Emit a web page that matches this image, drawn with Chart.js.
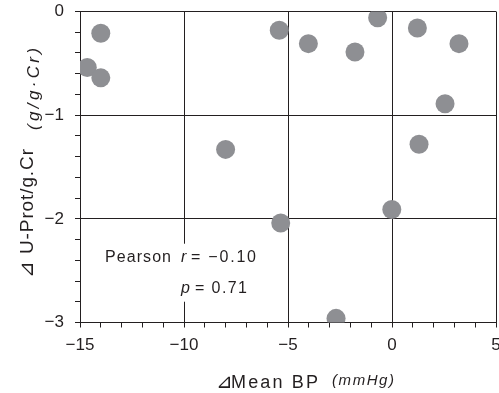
<!DOCTYPE html>
<html>
<head>
<meta charset="utf-8">
<script src="https://cdn.jsdelivr.net/npm/chart.js@4.4.1/dist/chart.umd.min.js"></script>
<style>
  html, body { margin: 0; padding: 0; background: #fff; }
  #wrap { width: 499px; height: 393px; position: relative; }
</style>
</head>
<body>
<div id="wrap"><canvas id="c" width="499" height="393"></canvas></div>
<script>
// ─── DATA ─────────────────────────────────────────────────────────────────────
const deltaMeanBP = [-14.0, -14.65, -14.0, -8.0, -5.42, -4.02, -0.69, -1.78, 1.22, 3.22, 2.55, 1.30, -5.35, -0.01, -2.69];
const deltaUProt  = [-0.21, -0.54, -0.64, -1.33, -0.18, -0.31, -0.06, -0.39, -0.16, -0.31, -0.89, -1.28, -2.04, -1.91, -2.96];
const xTicks = [-15, -10, -5, 0, 5];
const yTicks = [0, -1, -2, -3];

const INK = '#231f20';
const DOT = '#8e8f93';
const FONT = '"Liberation Sans", Arial, Helvetica, sans-serif';
// plot box inside the 499x393 canvas
const AREA = { left: 80, top: 11.5, right: 496, bottom: 322.5 };

const fmt = v => (v < 0 ? '\u2212' + Math.abs(v) : String(v));

// draw a string stretched (by letter spacing) to a given span
function spanText(ctx, text, x, y, font, span) {
  ctx.font = font;
  ctx.letterSpacing = '0px';
  const w = ctx.measureText(text).width;
  const gap = text.length > 1 ? (span - w) / (text.length - 1) : 0;
  ctx.letterSpacing = gap.toFixed(2) + 'px';
  ctx.fillText(text, x, y);
  ctx.letterSpacing = '0px';
  return span;
}

// ─── PIN THE PLOT AREA ────────────────────────────────────────────────────────
const fixedArea = {
  id: 'fixedArea',
  afterLayout(chart) {
    const ca = chart.chartArea;
    Object.assign(ca, AREA, { width: AREA.right - AREA.left, height: AREA.bottom - AREA.top });
    const xs = chart.scales.x, ys = chart.scales.y;
    Object.assign(xs, { left: AREA.left, right: AREA.right, top: AREA.bottom, bottom: chart.height,
      width: AREA.right - AREA.left, height: chart.height - AREA.bottom });
    Object.assign(ys, { left: 0, right: AREA.left, top: AREA.top, bottom: AREA.bottom,
      width: AREA.left, height: AREA.bottom - AREA.top });
    xs.configure();
    ys.configure();
  }
};

// ─── TITLES / ANNOTATION PLUGIN ───────────────────────────────────────────────
const decorations = {
  id: 'decorations',
  afterDraw(chart) {
    const ctx = chart.ctx;
    const xs = chart.scales.x, ys = chart.scales.y;
    ctx.save();

    // white box behind the stats text (breaks the grid line)
    ctx.fillStyle = '#fff';
    ctx.fillRect(xs.getPixelForValue(-10) - 6, ys.getPixelForValue(-2.24), 90, 58);

    ctx.fillStyle = INK;
    ctx.textBaseline = 'alphabetic';
    ctx.textAlign = 'left';
    spanText(ctx, 'Pearson', 105, 262, '16px ' + FONT, 66);
    spanText(ctx, 'r', 181, 262, 'italic 16px ' + FONT, 5);
    spanText(ctx, '= \u22120.10', 191, 262, '16px ' + FONT, 65);
    spanText(ctx, 'p', 181, 293, 'italic 16px ' + FONT, 9);
    spanText(ctx, '= 0.71', 195, 293, '16px ' + FONT, 52);

    // x title: triangle a bit larger than the words
    spanText(ctx, '\u22BF', 216, 388, '20px ' + FONT, 13);
    spanText(ctx, 'Mean BP', 231, 388, '18px ' + FONT, 87);
    spanText(ctx, '(mmHg)', 332, 385, 'italic 15px ' + FONT, 62);

    // y title
    ctx.translate(33, 278);
    ctx.rotate(-Math.PI / 2);
    spanText(ctx, '\u22BF', 0, 0, '20px ' + FONT, 13);
    spanText(ctx, 'U-Prot/g.Cr', 24, 0, '19px ' + FONT, 105);
    spanText(ctx, '(g/g\u00B7Cr)', 148, 6, 'italic 17px ' + FONT, 82);
    ctx.restore();
  }
};

// ─── CHART ────────────────────────────────────────────────────────────────────
new Chart(document.getElementById('c').getContext('2d'), {
  type: 'scatter',
  data: {
    datasets: [{
      data: deltaMeanBP.map((x, i) => ({ x, y: deltaUProt[i] })),
      backgroundColor: DOT,
      borderWidth: 0,
      pointRadius: 9.5,
      pointHoverRadius: 9.5
    }]
  },
  options: {
    responsive: false,
    animation: false,
    plugins: { legend: { display: false }, tooltip: { enabled: false } },
    scales: {
      x: {
        type: 'linear',
        min: xTicks[0], max: xTicks[xTicks.length - 1],
        ticks: {
          stepSize: 1, autoSkip: false, maxRotation: 0,
          color: INK, font: { family: FONT, size: 17 }, padding: 8,
          callback: v => (xTicks.includes(v) ? fmt(v) : '')
        },
        grid: {
          color: c => (xTicks.includes(c.tick && c.tick.value) ? INK : 'transparent'),
          tickColor: INK, tickLength: 5, lineWidth: 1
        },
        border: { color: INK, width: 1 }
      },
      y: {
        type: 'linear',
        min: yTicks[yTicks.length - 1], max: yTicks[0],
        ticks: {
          stepSize: 0.2, autoSkip: false,
          color: INK, font: { family: FONT, size: 17 }, padding: 11,
          callback: v => {
            const r = Math.round(v * 10) / 10;
            return yTicks.includes(r) ? fmt(r) : '';
          }
        },
        grid: {
          color: c => {
            const r = c.tick ? Math.round(c.tick.value * 10) / 10 : null;
            return yTicks.includes(r) ? INK : 'transparent';
          },
          tickColor: INK, tickLength: 5, lineWidth: 1
        },
        border: { color: INK, width: 1 }
      }
    }
  },
  plugins: [fixedArea, decorations]
});
</script>
</body>
</html>
